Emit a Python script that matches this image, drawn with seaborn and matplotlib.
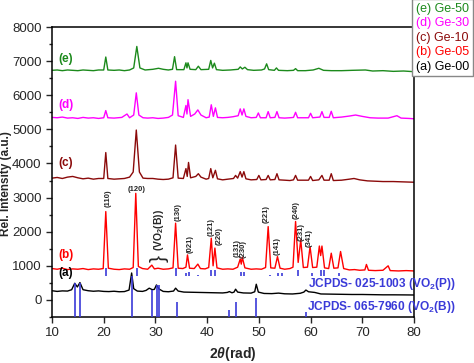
import matplotlib
matplotlib.use("Agg")
import matplotlib.pyplot as plt
import seaborn as sns
import pandas as pd

# ── data (2-theta, intensity) ────────────────────────────────────────────────
pts_a = [(10, 270), (11, 250), (12, 265), (13, 260), (13.8, 300), (14.4, 490), (14.9, 380),
         (15.4, 510), (16.0, 300), (17, 270), (18, 255), (19, 265), (20, 250), (21, 245),
         (22, 255), (23, 240), (24, 245), (24.9, 290), (25.4, 790), (25.8, 330), (26.5, 260),
         (27.5, 250), (28.2, 280), (28.8, 345), (29.4, 300), (29.8, 310), (30.2, 440),
         (30.7, 320), (31.5, 250), (32.5, 240), (33.5, 260), (33.9, 345), (34.4, 260),
         (35.5, 230), (37, 225), (38.5, 220), (40, 215), (41.5, 210), (43, 205), (43.9, 220),
         (44.3, 245), (44.8, 210), (45.2, 230), (45.5, 315), (45.9, 230), (47, 205), (48.5, 200),
         (49.2, 240), (49.5, 460), (49.9, 230), (51, 190), (52.5, 185), (53.8, 200), (55, 180),
         (56.5, 175), (58, 195), (58.7, 230), (59.1, 290), (59.6, 240), (60.8, 220), (62, 175),
         (64, 170), (66, 165), (68, 160), (70, 160), (72, 155), (74, 150), (76, 150), (78, 148),
         (80, 145)]

pts_b = [(10, 920), (11, 900), (12, 930), (13, 890), (14, 910), (15, 900), (16, 920), (17, 890),
         (18, 910), (19, 900), (19.9, 920), (20.4, 2590), (20.9, 930), (22, 900), (23, 890),
         (24, 910), (25, 900), (25.7, 950), (26.2, 3125), (26.7, 980), (27.5, 920), (28.5, 900),
         (29.3, 1020), (29.8, 910), (30.5, 930), (31.5, 900), (32.5, 910), (33.4, 940),
         (33.9, 2250), (34.4, 930), (35.3, 920), (35.9, 960), (36.2, 1320), (36.6, 930),
         (37.5, 920), (38.2, 1050), (38.7, 920), (39.6, 910), (40.3, 950), (40.8, 1810),
         (41.15, 1000), (41.5, 1520), (41.9, 940), (43, 900), (44, 910), (45, 900), (45.9, 960),
         (46.4, 1200), (46.6, 1050), (46.8, 1250), (47.3, 940), (48.5, 900), (49.5, 910),
         (50.5, 900), (51.3, 950), (51.8, 2150), (52.3, 940), (53.1, 930), (53.6, 1270),
         (54.1, 930), (55, 900), (56, 920), (56.6, 960), (57.1, 2300), (57.6, 1100), (58.1, 1760),
         (58.6, 950), (59.4, 960), (59.9, 1560), (60.4, 950), (61.2, 960), (61.7, 1580),
         (61.95, 1300), (62.2, 1580), (62.7, 940), (63.5, 920), (64.0, 1370), (64.5, 930),
         (65.3, 940), (65.8, 1420), (66.4, 920), (67.5, 880), (68.5, 890), (69.5, 870),
         (70.5, 880), (70.8, 1040), (71.2, 870), (72.5, 860), (74, 870), (75, 1000), (75.4, 860),
         (77, 850), (78.5, 860), (80, 850)]

pts_c = [(10, 3570), (11, 3590), (12, 3560), (13, 3600), (14, 3620), (15, 3580), (16, 3550),
         (17, 3570), (18, 3540), (19, 3560), (20, 3560), (20.4, 4320), (20.8, 3560), (22, 3540),
         (23, 3550), (24, 3560), (25, 3600), (25.7, 3750), (26.3, 4980), (26.9, 3750),
         (27.6, 3570), (28.5, 3560), (29.5, 3560), (30.5, 3540), (31.5, 3530), (32.5, 3540),
         (33.4, 3580), (33.9, 4540), (34.4, 3570), (35.4, 3560), (35.9, 3850), (36.15, 3620),
         (36.4, 4030), (36.8, 3580), (37.8, 3620), (38.3, 3700), (38.8, 3600), (39.8, 3540),
         (40.3, 3560), (40.7, 3850), (41.1, 3580), (41.6, 3800), (42, 3550), (43, 3520),
         (44, 3540), (45.1, 3560), (45.5, 3650), (45.9, 3570), (46.4, 3760), (46.75, 3600),
         (47.1, 3760), (47.5, 3550), (48.5, 3520), (49.6, 3530), (50, 3650), (50.4, 3520),
         (51.4, 3530), (51.8, 3650), (52.2, 3520), (53.1, 3530), (53.5, 3700), (53.9, 3520),
         (55, 3510), (56, 3500), (56.7, 3520), (57.1, 3650), (57.5, 3510), (59.6, 3510),
         (60, 3620), (60.4, 3500), (61.6, 3520), (62.2, 3650), (62.6, 3510), (63.6, 3510),
         (64, 3700), (64.4, 3500), (66, 3510), (67.5, 3540), (68.4, 3560), (69.5, 3520),
         (71, 3490), (72.5, 3480), (74, 3470), (76, 3470), (78, 3460), (80, 3450)]

pts_d = [(10, 5350), (11, 5340), (12, 5360), (13, 5330), (14, 5340), (15, 5320), (16, 5350),
         (17, 5330), (18, 5340), (19, 5320), (20, 5340), (20.4, 5550), (20.8, 5340), (22, 5330),
         (23.5, 5350), (24.5, 5450), (25, 5340), (25.8, 5420), (26.3, 6070), (26.8, 5420),
         (27.6, 5340), (28.5, 5330), (29.5, 5340), (30.5, 5320), (31.5, 5330), (32.5, 5350),
         (33.3, 5420), (33.9, 6410), (34.4, 5400), (35.4, 5350), (35.9, 5700), (36.1, 5450),
         (36.3, 5870), (36.8, 5380), (37.6, 5450), (38.2, 5570), (38.8, 5420), (39.8, 5340),
         (40.4, 5360), (40.8, 5720), (41.2, 5380), (41.6, 5630), (42, 5350), (43, 5340),
         (44, 5350), (45, 5370), (46, 5400), (46.4, 5600), (46.75, 5420), (47.1, 5600),
         (47.5, 5380), (48.5, 5340), (49.5, 5350), (49.9, 5480), (50.3, 5340), (51.4, 5340),
         (51.8, 5520), (52.2, 5340), (53.1, 5350), (53.5, 5520), (53.9, 5340), (55, 5330),
         (56, 5340), (56.7, 5350), (57.1, 5500), (57.5, 5340), (59.6, 5340), (60, 5470),
         (60.4, 5340), (61.8, 5360), (62.2, 5520), (62.6, 5350), (63.6, 5350), (64, 5530),
         (64.4, 5340), (66, 5360), (67.5, 5390), (68.7, 5420), (70, 5380), (71.5, 5340),
         (73, 5330), (75, 5330), (76.7, 5400), (77.5, 5330), (79, 5320), (80, 5310)]

pts_e = [(10, 6730), (11, 6740), (12, 6720), (13, 6740), (14, 6730), (15, 6720), (16, 6740),
         (17, 6730), (18, 6720), (19, 6740), (20, 6740), (20.4, 7120), (20.8, 6740), (22, 6730),
         (23, 6740), (24, 6720), (25, 6740), (25.8, 6800), (26.4, 7430), (27, 6800), (28, 6740),
         (29.5, 6760), (30.6, 6790), (31.5, 6760), (32.5, 6740), (33.3, 6760), (33.7, 7130),
         (34.1, 6750), (35.5, 6750), (35.9, 6950), (36.1, 6800), (36.3, 6950), (36.7, 6760),
         (37.8, 6750), (38.3, 6850), (38.8, 6750), (40.3, 6760), (40.7, 7020), (41.05, 6800),
         (41.4, 6940), (41.8, 6750), (43, 6730), (44.5, 6740), (46, 6760), (46.4, 6830),
         (46.8, 6770), (47.3, 6820), (47.8, 6750), (49, 6730), (50.5, 6740), (51.1, 6770),
         (51.5, 6920), (51.9, 6750), (53, 6730), (53.4, 6800), (53.8, 6730), (55.5, 6720),
         (56.7, 6730), (57.1, 6780), (57.5, 6720), (59, 6720), (60.5, 6740), (61.6, 6790),
         (62.5, 6730), (64, 6720), (66, 6720), (68, 6730), (70.6, 6740), (72, 6710), (74, 6720),
         (76, 6700), (78, 6710), (80, 6690)]

# reference stick patterns
vo2p_pos = [20.5, 26.4, 33.9, 35.9, 36.4, 38.2, 40.8, 41.6, 46.5, 47.2, 52.1, 53.7, 54.4,
            57.6, 60.3, 62.1, 62.5, 65.5]
vo2p_top = [930, 930, 930, 785, 830, 735, 880, 880, 830, 830, 735, 785, 785, 880, 785, 880,
            880, 785]
vo2p_base = 690
vo2b_pos = [14.4, 15.4, 25.4, 29.4, 30.3, 30.6, 34.1, 44.3, 45.5, 49.5, 59.2]
vo2b_top = [490, 490, 700, 300, 430, 430, -50, -300, -50, 50, -360]
vo2b_base = -500

# miller index labels for pattern (b): (text, 2theta, y of label bottom)
hkl = [("(110)", 20.9, 2720), ("(130)", 34.3, 2320), ("(021)", 36.7, 1380),
       ("(121)", 40.8, 1860), ("(220)", 42.4, 1600), ("(131)", 45.8, 1250),
       ("(230)", 47.0, 1220), ("(221)", 51.4, 2250), ("(141)", 53.6, 1320),
       ("(240)", 57.3, 2360), ("(231)", 58.2, 1730), ("(341)", 59.8, 1560)]

samples = ["(e) Ge-50", "(d) Ge-30", "(c) Ge-10", "(b) Ge-05", "(a) Ge-00"]
tags = ["(e)", "(d)", "(c)", "(b)", "(a)"]
tag_y = [7050, 5700, 4000, 1330, 780]
colors = ["#1c8a1c", "#ff00ff", "#8b0a0a", "#ff0000", "#000000"]
STICK = "#3a3ad8"

sns.set_style("ticks")
plt.rcParams.update({
    "font.family": ["Liberation Sans", "DejaVu Sans"],
    "mathtext.fontset": "custom",
    "mathtext.rm": "Liberation Sans",
    "mathtext.it": "Liberation Sans:italic",
    "mathtext.bf": "Liberation Sans:bold",
    "mathtext.bfit": "Liberation Sans:bold:italic",
    "axes.linewidth": 1.1,
    "axes.edgecolor": "black",
})

fig = plt.figure(figsize=(4.74, 3.63), dpi=100)
ax = fig.add_axes([52 / 474, 1 - 317 / 363, 362 / 474, 290 / 363])

# reference sticks first so the patterns sit on top
ax.vlines(vo2p_pos, vo2p_base, vo2p_top, color=STICK, lw=1.2, zorder=1)
ax.vlines(vo2b_pos, vo2b_base, vo2b_top, color=STICK, lw=1.2, zorder=3)

for pts, lab, col in zip([pts_e, pts_d, pts_c, pts_b, pts_a], samples, colors):
    df = pd.DataFrame(pts, columns=["tt", "I"])
    sns.lineplot(data=df, x="tt", y="I", ax=ax, color=col, lw=1.0, label=lab,
                 estimator=None, zorder=2)

for t, y, col in zip(tags, tag_y, colors):
    ax.text(11.2, y, t, color=col, fontsize=8.5, fontweight="bold", va="center")

for t, x, y in hkl:
    ax.text(x, y, t, rotation=90, fontsize=5.5, fontweight="bold", ha="center", va="bottom")
ax.text(26.4, 3240, "(120)", fontsize=5.5, fontweight="bold", ha="center", va="center")

# VO2(B) impurity bracket
ax.text(30.7, 1200, "}", rotation=90, fontsize=15, ha="center", va="center")
ax.text(30.6, 1420, "(VO$_\\mathbf{2}$(B))", rotation=90, fontsize=7.5, fontweight="bold",
        ha="center", va="bottom")

ax.text(1.115, 0.113, "JCPDS- 025-1003 (VO$_\\mathbf{2}$(P))", transform=ax.transAxes,
        color=STICK, fontsize=8.6, fontweight="bold", ha="right", va="center", clip_on=False)
ax.text(1.115, 0.035, "JCPDS- 065-7960 (VO$_\\mathbf{2}$(B))", transform=ax.transAxes,
        color=STICK, fontsize=8.6, fontweight="bold", ha="right", va="center", clip_on=False)

ax.set_xlim(10, 80)
ax.set_ylim(-500, 8000)
ax.set_xticks(range(10, 81, 10))
ax.set_yticks(range(0, 8001, 1000))
ax.set_yticks(range(-500, 8000, 500), minor=True)
ax.tick_params(which="both", direction="out", labelsize=9.5, width=1, top=False, right=False)
ax.tick_params(which="major", length=4)
ax.tick_params(which="minor", length=2.5)
ax.set_xlabel(r"$\mathbf{2}\boldsymbol{\theta}\mathbf{(rad)}$", fontsize=10, labelpad=4)
ax.set_ylabel("Rel. Intensity (a.u.)", fontsize=8.5, fontweight="bold")
ax.yaxis.set_label_coords(-0.11, 0.46)
for s in ax.spines.values():
    s.set_visible(True)

ax.legend_.remove()
handles, labels = ax.get_legend_handles_labels()
leg = fig.legend(handles, labels, loc="upper left", bbox_to_anchor=(412 / 474, 1.003),
                 handlelength=0, handletextpad=0, borderaxespad=0, borderpad=0.3,
                 labelspacing=0.2, fontsize=9, labelcolor=colors, fancybox=False,
                 framealpha=1, edgecolor="#888888")
for h in leg.legend_handles:
    h.set_visible(False)

fig.savefig("out.png", dpi=100)
